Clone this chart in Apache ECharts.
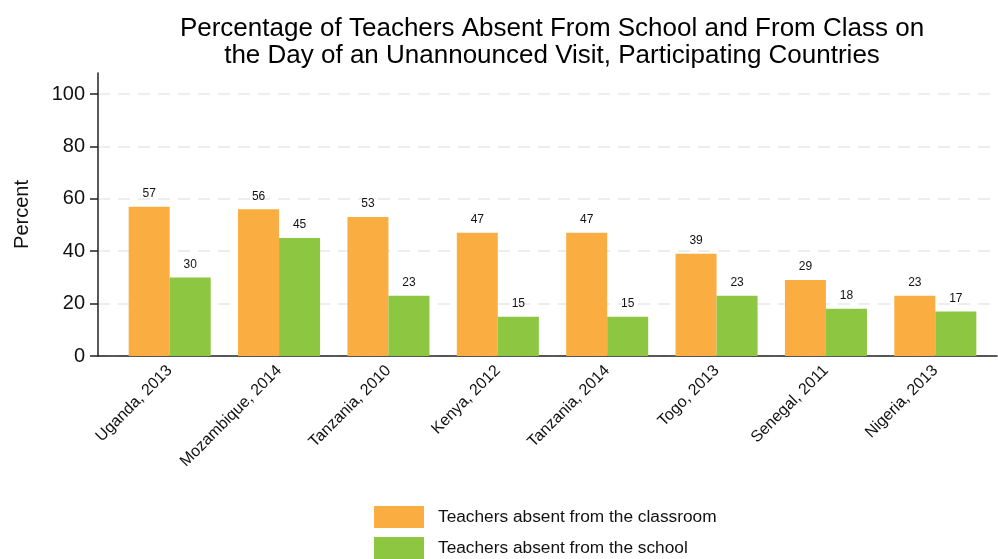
<!DOCTYPE html>
<html>
<head>
<meta charset="utf-8">
<script src="https://cdn.jsdelivr.net/npm/echarts@6/dist/echarts.min.js"></script>
<style>
  html, body { margin: 0; padding: 0; background: #fff; }
  #chart { width: 998px; height: 559px; }
</style>
</head>
<body>
<div id="chart"></div>
<script>
// Survey sites (country, survey year)
const countries = ['Uganda, 2013', 'Mozambique, 2014', 'Tanzania, 2010', 'Kenya, 2012',
                   'Tanzania, 2014', 'Togo, 2013', 'Senegal, 2011', 'Nigeria, 2013'];
// Share of teachers absent, percent
const absentClassroom = [57, 56, 53, 47, 47, 39, 29, 23];
const absentSchool = [30, 45, 23, 15, 15, 23, 18, 17];
const seriesNames = ['Teachers absent from the classroom', 'Teachers absent from the school'];
const yTickMax = 100;

const FONT = '"Liberation Sans", Arial, Helvetica, sans-serif';
const ORANGE = '#FAAE42';
const GREEN = '#8DC640';
const Y_MAX = 108;

const chart = echarts.init(document.getElementById('chart'), null, { renderer: 'canvas' });

const barLabel = {
  show: true,
  position: 'top',
  distance: 7,
  color: '#111',
  fontFamily: FONT,
  fontSize: 12
};

const legendText = { fontFamily: FONT, fontSize: 17.3, color: '#111', padding: [0, 0, 0, 9] };

chart.setOption({
  animation: false,
  backgroundColor: '#fff',
  title: {
    text: 'Percentage of Teachers Absent From School and From Class on\nthe Day of an Unannounced Visit, Participating Countries',
    left: 552,
    textAlign: 'center',
    top: 15,
    padding: 0,
    textStyle: {
      fontFamily: FONT,
      fontSize: 26,
      fontWeight: 'normal',
      color: '#000',
      lineHeight: 27
    }
  },
  // one legend per series so the two keys stack in a single column
  legend: [
    {
      left: 374, top: 506, padding: 0,
      itemWidth: 50, itemHeight: 22, icon: 'rect',
      textStyle: legendText,
      data: [seriesNames[0]]
    },
    {
      left: 374, top: 537, padding: 0,
      itemWidth: 50, itemHeight: 22, icon: 'rect',
      textStyle: legendText,
      data: [seriesNames[1]]
    }
  ],
  grid: [
    // bars, plus the full-height y axis line
    { left: 115, right: 8, top: 73, bottom: 203, outerBoundsMode: 'none', containLabel: false },
    // frame: x axis line, y labels, gridlines (0..100)
    { left: 98, right: 1, top: 94, bottom: 203, outerBoundsMode: 'none', containLabel: false }
  ],
  xAxis: [
    {
      type: 'category',
      gridIndex: 0,
      data: countries,
      axisLine: { show: false },
      axisTick: { show: false },
      axisLabel: {
        rotate: 45,
        margin: 12,
        fontFamily: FONT,
        fontSize: 16,
        color: '#111'
      }
    },
    {
      type: 'value',
      gridIndex: 1,
      min: 0,
      max: 1,
      axisLine: { show: true, lineStyle: { color: '#222', width: 1.5 } },
      axisTick: { show: false },
      axisLabel: { show: false },
      splitLine: { show: false }
    }
  ],
  yAxis: [
    {
      type: 'value',
      gridIndex: 0,
      min: 0,
      max: Y_MAX,
      offset: 17,
      name: 'Percent',
      nameLocation: 'middle',
      nameGap: 66,
      nameTextStyle: { fontFamily: FONT, fontSize: 20, color: '#111' },
      axisLine: { show: true, lineStyle: { color: '#222', width: 1.5 } },
      axisTick: { show: false },
      axisLabel: { show: false },
      splitLine: { show: false }
    },
    {
      type: 'value',
      gridIndex: 1,
      min: 0,
      max: yTickMax,
      interval: 20,
      axisLine: { show: false },
      axisTick: { show: true, length: 8, lineStyle: { color: '#222', width: 1.5 } },
      axisLabel: {
        margin: 13,
        fontFamily: FONT,
        fontSize: 20,
        color: '#111'
      },
      splitLine: {
        show: true,
        lineStyle: { color: '#e9e9e9', type: [12, 8], width: 1.5 }
      }
    }
  ],
  series: [
    {
      name: seriesNames[0],
      type: 'bar',
      xAxisIndex: 0,
      yAxisIndex: 0,
      data: absentClassroom,
      itemStyle: { color: ORANGE },
      barGap: '0%',
      barCategoryGap: '25%',
      label: barLabel
    },
    {
      name: seriesNames[1],
      type: 'bar',
      xAxisIndex: 0,
      yAxisIndex: 0,
      data: absentSchool,
      itemStyle: { color: GREEN },
      barGap: '0%',
      barCategoryGap: '25%',
      label: barLabel
    }
  ]
});
</script>
</body>
</html>
